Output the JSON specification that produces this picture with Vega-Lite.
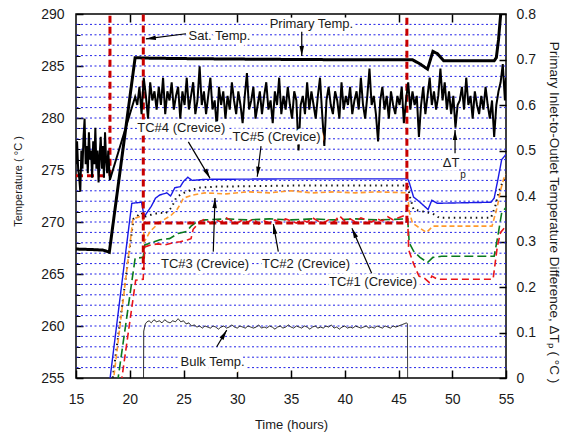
{
 "$schema": "https://vega.github.io/schema/vega-lite/v6.json",
 "width": 430, "height": 364,
 "autosize": {"type": "none"},
 "padding": {"left": 76, "top": 14, "right": 61, "bottom": 58},
 "background": "white",
 "config": {
  "font": "Liberation Sans",
  "view": {"stroke": "black", "strokeWidth": 1.5},
  "axis": {"grid": false, "domain": false, "labelFont": "Liberation Sans", "titleFont": "Liberation Sans", "labelColor": "#1a1a1a", "titleColor": "#1a1a1a", "titleFontWeight": "normal", "tickColor": "black", "labelFlush": false, "labelOverlap": false}
 },
 "datasets": {
  "grid": [{"g":256},{"g":257},{"g":258},{"g":259},{"g":260},{"g":261},{"g":262},{"g":263},{"g":264},{"g":265},{"g":266},{"g":267},{"g":268},{"g":269},{"g":270},{"g":271},{"g":272},{"g":273},{"g":274},{"g":275},{"g":276},{"g":277},{"g":278},{"g":279},{"g":280},{"g":281},{"g":282},{"g":283},{"g":284},{"g":285},{"g":286},{"g":287},{"g":288},{"g":289}],
  "sat": [{"seg":"a","k":1,"t":15,"v":274.45},{"seg":"a","k":2,"t":18.16,"v":274.45},{"seg":"a","k":3,"t":18.16,"v":291},
          {"seg":"b","k":1,"t":21.26,"v":291},{"seg":"b","k":2,"t":21.26,"v":265.4},
          {"seg":"c","k":1,"t":21.26,"v":269.9},{"seg":"c","k":2,"t":45.78,"v":269.9},{"seg":"c","k":3,"t":45.78,"v":291}],
  "temps": [
   {"s":"Primary","t":15,"v":267.4},{"s":"Primary","t":16.5,"v":267.35},{"s":"Primary","t":17.5,"v":267.3},{"s":"Primary","t":18.1,"v":267.1},{"s":"Primary","t":20.5,"v":285.8},{"s":"Primary","t":22,"v":285.75},{"s":"Primary","t":26,"v":285.7},{"s":"Primary","t":32,"v":285.65},{"s":"Primary","t":40,"v":285.6},{"s":"Primary","t":46.3,"v":285.6},{"s":"Primary","t":47.0,"v":285.2},{"s":"Primary","t":47.7,"v":284.7},{"s":"Primary","t":48.2,"v":286.4},{"s":"Primary","t":48.6,"v":286.2},{"s":"Primary","t":49.2,"v":285.5},{"s":"Primary","t":53.9,"v":285.5},{"s":"Primary","t":54.1,"v":285.8},{"s":"Primary","t":54.3,"v":287.5},{"s":"Primary","t":54.55,"v":290.5},
   {"s":"TC#4","t":18.1,"v":254.4},{"s":"TC#4","t":20.19,"v":271.8},{"s":"TC#4","t":21.1,"v":271.9},{"s":"TC#4","t":21.34,"v":270.5},{"s":"TC#4","t":21.6,"v":270.9},{"s":"TC#4","t":22.0,"v":271.5},{"s":"TC#4","t":22.4,"v":272.3},{"s":"TC#4","t":22.8,"v":272.6},{"s":"TC#4","t":23.45,"v":272.8},{"s":"TC#4","t":23.8,"v":272.5},{"s":"TC#4","t":24.2,"v":273.3},{"s":"TC#4","t":24.7,"v":273.4},{"s":"TC#4","t":25.0,"v":273.9},{"s":"TC#4","t":25.4,"v":274.3},{"s":"TC#4","t":25.8,"v":274.0},{"s":"TC#4","t":27,"v":274.1},{"s":"TC#4","t":35,"v":274.15},{"s":"TC#4","t":45.85,"v":274.15},{"s":"TC#4","t":46.0,"v":273.8},{"s":"TC#4","t":46.4,"v":272.4},{"s":"TC#4","t":47.0,"v":271.9},{"s":"TC#4","t":47.75,"v":271.2},{"s":"TC#4","t":48.1,"v":272.1},{"s":"TC#4","t":48.6,"v":271.8},{"s":"TC#4","t":53.6,"v":271.9},{"s":"TC#4","t":53.9,"v":272.3},{"s":"TC#4","t":54.25,"v":274.1},{"s":"TC#4","t":54.6,"v":276.0},{"s":"TC#4","t":55,"v":276.5},
   {"s":"TC#5","t":18.35,"v":254.5},{"s":"TC#5","t":20.35,"v":270.3},{"s":"TC#5","t":21.1,"v":270.9},{"s":"TC#5","t":21.35,"v":270.5},{"s":"TC#5","t":22.0,"v":270.7},{"s":"TC#5","t":22.8,"v":270.9},{"s":"TC#5","t":23.3,"v":270.8},{"s":"TC#5","t":23.9,"v":271.4},{"s":"TC#5","t":24.3,"v":272.3},{"s":"TC#5","t":24.8,"v":272.7},{"s":"TC#5","t":25.5,"v":273.0},{"s":"TC#5","t":26.5,"v":273.3},{"s":"TC#5","t":28,"v":273.4},{"s":"TC#5","t":35,"v":273.5},{"s":"TC#5","t":45.85,"v":273.5},{"s":"TC#5","t":46.1,"v":272.3},{"s":"TC#5","t":46.4,"v":271.2},{"s":"TC#5","t":47.3,"v":271.0},{"s":"TC#5","t":48.2,"v":270.8},{"s":"TC#5","t":48.8,"v":270.4},{"s":"TC#5","t":53.6,"v":270.4},{"s":"TC#5","t":54.0,"v":271.5},{"s":"TC#5","t":54.3,"v":272.8},{"s":"TC#5","t":54.7,"v":273.9},{"s":"TC#5","t":55,"v":274.3},
   {"s":"TC#3","t":18.45,"v":254.5},{"s":"TC#3","t":20.3,"v":270.3},{"s":"TC#3","t":21.2,"v":270.6},{"s":"TC#3","t":21.35,"v":268.1},{"s":"TC#3","t":21.9,"v":269.1},{"s":"TC#3","t":22.8,"v":270.0},{"s":"TC#3","t":23.8,"v":270.6},{"s":"TC#3","t":24.4,"v":271.2},{"s":"TC#3","t":24.7,"v":271.7},{"s":"TC#3","t":25.0,"v":272.3},{"s":"TC#3","t":25.9,"v":272.6},{"s":"TC#3","t":27,"v":272.8},{"s":"TC#3","t":29,"v":272.7},{"s":"TC#3","t":31,"v":272.9},{"s":"TC#3","t":33,"v":272.8},{"s":"TC#3","t":35,"v":273.0},{"s":"TC#3","t":37,"v":272.8},{"s":"TC#3","t":39,"v":272.9},{"s":"TC#3","t":41,"v":272.8},{"s":"TC#3","t":43,"v":272.9},{"s":"TC#3","t":45.85,"v":272.8},{"s":"TC#3","t":46.0,"v":271.0},{"s":"TC#3","t":46.3,"v":269.9},{"s":"TC#3","t":47.0,"v":269.4},{"s":"TC#3","t":47.6,"v":269.0},{"s":"TC#3","t":48.2,"v":269.6},{"s":"TC#3","t":49,"v":269.6},{"s":"TC#3","t":53.7,"v":269.6},{"s":"TC#3","t":54.2,"v":271.5},{"s":"TC#3","t":54.5,"v":273.1},{"s":"TC#3","t":54.8,"v":274.2},{"s":"TC#3","t":55,"v":274.6},
   {"s":"TC#2","t":18.85,"v":254.5},{"s":"TC#2","t":20.5,"v":266.5},{"s":"TC#2","t":21.25,"v":266.6},{"s":"TC#2","t":21.4,"v":267.8},{"s":"TC#2","t":22.0,"v":268.0},{"s":"TC#2","t":22.8,"v":268.3},{"s":"TC#2","t":23.7,"v":268.4},{"s":"TC#2","t":24.5,"v":268.9},{"s":"TC#2","t":25.3,"v":269.1},{"s":"TC#2","t":25.7,"v":269.6},{"s":"TC#2","t":26.2,"v":270.0},{"s":"TC#2","t":27,"v":270.2},{"s":"TC#2","t":29,"v":270.3},{"s":"TC#2","t":31,"v":270.2},{"s":"TC#2","t":33,"v":270.3},{"s":"TC#2","t":35,"v":270.2},{"s":"TC#2","t":37,"v":270.3},{"s":"TC#2","t":39,"v":270.2},{"s":"TC#2","t":41,"v":270.3},{"s":"TC#2","t":43,"v":270.2},{"s":"TC#2","t":45.85,"v":270.3},{"s":"TC#2","t":46.0,"v":268.0},{"s":"TC#2","t":46.4,"v":267.2},{"s":"TC#2","t":47.0,"v":266.6},{"s":"TC#2","t":47.7,"v":266.1},{"s":"TC#2","t":48.2,"v":266.6},{"s":"TC#2","t":49,"v":266.7},{"s":"TC#2","t":53.9,"v":266.7},{"s":"TC#2","t":54.3,"v":269.0},{"s":"TC#2","t":54.6,"v":270.9},{"s":"TC#2","t":55,"v":271.4},
   {"s":"TC#1","t":19.2,"v":254.5},{"s":"TC#1","t":20.55,"v":264.4},{"s":"TC#1","t":21.25,"v":264.5},{"s":"TC#1","t":21.4,"v":267.6},{"s":"TC#1","t":22.0,"v":267.8},{"s":"TC#1","t":22.6,"v":267.9},{"s":"TC#1","t":23.3,"v":267.8},{"s":"TC#1","t":24.0,"v":268.0},{"s":"TC#1","t":24.7,"v":268.1},{"s":"TC#1","t":25.4,"v":268.3},{"s":"TC#1","t":25.7,"v":268.4},{"s":"TC#1","t":25.9,"v":269.3},{"s":"TC#1","t":26.5,"v":270.0},{"s":"TC#1","t":27.0,"v":270.3},{"s":"TC#1","t":27.5,"v":269.9},{"s":"TC#1","t":28.0,"v":270.2},{"s":"TC#1","t":28.5,"v":270.0},{"s":"TC#1","t":29.0,"v":270.4},{"s":"TC#1","t":29.5,"v":270.1},{"s":"TC#1","t":30.0,"v":269.9},{"s":"TC#1","t":30.5,"v":270.2},{"s":"TC#1","t":31.0,"v":270.0},{"s":"TC#1","t":31.5,"v":270.3},{"s":"TC#1","t":32.0,"v":269.8},{"s":"TC#1","t":32.5,"v":270.1},{"s":"TC#1","t":33.0,"v":269.9},{"s":"TC#1","t":33.5,"v":270.2},{"s":"TC#1","t":34.0,"v":270.0},{"s":"TC#1","t":34.5,"v":270.3},{"s":"TC#1","t":35.0,"v":270.1},{"s":"TC#1","t":35.5,"v":269.9},{"s":"TC#1","t":36.0,"v":270.2},{"s":"TC#1","t":36.5,"v":270.0},{"s":"TC#1","t":37.0,"v":270.4},{"s":"TC#1","t":37.5,"v":270.1},{"s":"TC#1","t":38.0,"v":269.9},{"s":"TC#1","t":38.5,"v":270.2},{"s":"TC#1","t":39.0,"v":270.0},{"s":"TC#1","t":39.5,"v":270.6},{"s":"TC#1","t":40.0,"v":270.1},{"s":"TC#1","t":40.5,"v":270.3},{"s":"TC#1","t":41.0,"v":270.0},{"s":"TC#1","t":41.5,"v":270.4},{"s":"TC#1","t":42.0,"v":270.2},{"s":"TC#1","t":42.5,"v":270.0},{"s":"TC#1","t":43.0,"v":270.3},{"s":"TC#1","t":43.5,"v":270.1},{"s":"TC#1","t":44.0,"v":270.5},{"s":"TC#1","t":44.5,"v":270.2},{"s":"TC#1","t":45.0,"v":270.4},{"s":"TC#1","t":45.5,"v":270.6},{"s":"TC#1","t":45.85,"v":270.3},{"s":"TC#1","t":45.95,"v":267.3},{"s":"TC#1","t":46.4,"v":266.0},{"s":"TC#1","t":46.9,"v":264.8},{"s":"TC#1","t":47.4,"v":264.6},{"s":"TC#1","t":47.85,"v":264.2},{"s":"TC#1","t":48.1,"v":264.8},{"s":"TC#1","t":48.6,"v":264.5},{"s":"TC#1","t":53.8,"v":264.5},{"s":"TC#1","t":54.2,"v":267.7},{"s":"TC#1","t":54.5,"v":269.0},{"s":"TC#1","t":55,"v":269.6},
   {"s":"Bulk","t":21.28,"v":254.5},{"s":"Bulk","t":21.3,"v":259.5},{"s":"Bulk","t":21.45,"v":260.2},{"s":"Bulk","t":21.6,"v":260.4},{"s":"Bulk","t":21.8,"v":260.5},{"s":"Bulk","t":22.0,"v":260.3},{"s":"Bulk","t":22.25,"v":260.6},{"s":"Bulk","t":22.5,"v":260.4},{"s":"Bulk","t":22.75,"v":260.5},{"s":"Bulk","t":23.0,"v":260.3},{"s":"Bulk","t":23.25,"v":260.6},{"s":"Bulk","t":23.5,"v":260.4},{"s":"Bulk","t":23.75,"v":260.3},{"s":"Bulk","t":24.0,"v":260.5},{"s":"Bulk","t":24.25,"v":260.4},{"s":"Bulk","t":24.5,"v":260.7},{"s":"Bulk","t":24.75,"v":260.4},{"s":"Bulk","t":25.0,"v":260.5},{"s":"Bulk","t":25.25,"v":260.2},{"s":"Bulk","t":25.5,"v":260.3},{"s":"Bulk","t":25.75,"v":260.0},{"s":"Bulk","t":26.0,"v":260.1},{"s":"Bulk","t":26.25,"v":259.9},{"s":"Bulk","t":26.5,"v":260.0},{"s":"Bulk","t":26.75,"v":259.8},{"s":"Bulk","t":27.0,"v":260.0},{"s":"Bulk","t":27.25,"v":259.9},{"s":"Bulk","t":27.5,"v":259.8},{"s":"Bulk","t":27.75,"v":260.0},{"s":"Bulk","t":28.0,"v":259.9},{"s":"Bulk","t":28.25,"v":259.7},{"s":"Bulk","t":28.5,"v":259.9},{"s":"Bulk","t":28.75,"v":260.0},{"s":"Bulk","t":29.0,"v":259.8},{"s":"Bulk","t":29.25,"v":259.9},{"s":"Bulk","t":29.5,"v":260.1},{"s":"Bulk","t":29.75,"v":259.9},{"s":"Bulk","t":30.0,"v":259.8},{"s":"Bulk","t":30.25,"v":260.0},{"s":"Bulk","t":30.5,"v":259.9},{"s":"Bulk","t":30.75,"v":259.8},{"s":"Bulk","t":31.0,"v":260.0},{"s":"Bulk","t":31.25,"v":259.9},{"s":"Bulk","t":31.5,"v":259.8},{"s":"Bulk","t":31.75,"v":259.9},{"s":"Bulk","t":32.0,"v":260.1},{"s":"Bulk","t":32.25,"v":259.8},{"s":"Bulk","t":32.5,"v":259.9},{"s":"Bulk","t":32.75,"v":259.8},{"s":"Bulk","t":33.0,"v":260.0},{"s":"Bulk","t":33.25,"v":259.9},{"s":"Bulk","t":33.5,"v":259.7},{"s":"Bulk","t":33.75,"v":259.9},{"s":"Bulk","t":34.0,"v":260.0},{"s":"Bulk","t":34.25,"v":259.8},{"s":"Bulk","t":34.5,"v":259.9},{"s":"Bulk","t":34.75,"v":260.1},{"s":"Bulk","t":35.0,"v":259.9},{"s":"Bulk","t":35.25,"v":259.8},{"s":"Bulk","t":35.5,"v":260.0},{"s":"Bulk","t":35.75,"v":259.9},{"s":"Bulk","t":36.0,"v":259.8},{"s":"Bulk","t":36.25,"v":260.0},{"s":"Bulk","t":36.5,"v":259.9},{"s":"Bulk","t":36.75,"v":259.7},{"s":"Bulk","t":37.0,"v":259.9},{"s":"Bulk","t":37.25,"v":260.0},{"s":"Bulk","t":37.5,"v":259.8},{"s":"Bulk","t":37.75,"v":259.9},{"s":"Bulk","t":38.0,"v":259.8},{"s":"Bulk","t":38.25,"v":260.0},{"s":"Bulk","t":38.5,"v":259.9},{"s":"Bulk","t":38.75,"v":260.1},{"s":"Bulk","t":39.0,"v":259.8},{"s":"Bulk","t":39.25,"v":259.9},{"s":"Bulk","t":39.5,"v":259.7},{"s":"Bulk","t":39.75,"v":259.9},{"s":"Bulk","t":40.0,"v":260.0},{"s":"Bulk","t":40.25,"v":259.8},{"s":"Bulk","t":40.5,"v":259.9},{"s":"Bulk","t":40.75,"v":259.8},{"s":"Bulk","t":41.0,"v":260.0},{"s":"Bulk","t":41.25,"v":259.9},{"s":"Bulk","t":41.5,"v":259.8},{"s":"Bulk","t":41.75,"v":259.9},{"s":"Bulk","t":42.0,"v":260.0},{"s":"Bulk","t":42.25,"v":259.8},{"s":"Bulk","t":42.5,"v":259.9},{"s":"Bulk","t":42.75,"v":259.8},{"s":"Bulk","t":43.0,"v":260.0},{"s":"Bulk","t":43.25,"v":259.9},{"s":"Bulk","t":43.5,"v":259.8},{"s":"Bulk","t":43.75,"v":260.0},{"s":"Bulk","t":44.0,"v":259.9},{"s":"Bulk","t":44.25,"v":259.8},{"s":"Bulk","t":44.5,"v":260.0},{"s":"Bulk","t":44.75,"v":259.9},{"s":"Bulk","t":45.0,"v":260.0},{"s":"Bulk","t":45.25,"v":260.1},{"s":"Bulk","t":45.5,"v":260.2},{"s":"Bulk","t":45.75,"v":260.3},{"s":"Bulk","t":45.83,"v":260.2},{"s":"Bulk","t":45.85,"v":254.5}
  ],
  "dtp": [
   {"t":15.0,"d":0.47},{"t":15.1,"d":0.52},{"t":15.2,"d":0.46},{"t":15.3,"d":0.44},{"t":15.4,"d":0.41},{"t":15.5,"d":0.50},{"t":15.6,"d":0.46},{"t":15.7,"d":0.53},{"t":15.8,"d":0.57},{"t":15.9,"d":0.47},{"t":16.0,"d":0.51},{"t":16.1,"d":0.45},{"t":16.2,"d":0.54},{"t":16.3,"d":0.48},{"t":16.4,"d":0.50},{"t":16.5,"d":0.44},{"t":16.6,"d":0.52},{"t":16.7,"d":0.47},{"t":16.8,"d":0.55},{"t":16.9,"d":0.46},{"t":17.0,"d":0.50},{"t":17.1,"d":0.43},{"t":17.2,"d":0.49},{"t":17.3,"d":0.53},{"t":17.4,"d":0.46},{"t":17.5,"d":0.51},{"t":17.6,"d":0.44},{"t":17.7,"d":0.54},{"t":17.8,"d":0.48},{"t":17.9,"d":0.45},{"t":18.0,"d":0.50},{"t":18.15,"d":0.435},{"t":20.5,"d":0.618},
   {"t":20.7,"d":0.60},{"t":20.9,"d":0.64},{"t":21.1,"d":0.58},{"t":21.3,"d":0.66},{"t":21.5,"d":0.62},{"t":21.7,"d":0.57},{"t":21.9,"d":0.65},{"t":22.1,"d":0.61},{"t":22.3,"d":0.63},{"t":22.5,"d":0.59},
   {"t":22.7,"d":0.64},{"t":22.9,"d":0.60},{"t":23.1,"d":0.66},{"t":23.3,"d":0.58},{"t":23.5,"d":0.63},{"t":23.7,"d":0.61},{"t":23.9,"d":0.65},{"t":24.1,"d":0.59},{"t":24.3,"d":0.62},{"t":24.5,"d":0.64},
   {"t":24.7,"d":0.57},{"t":24.9,"d":0.63},{"t":25.1,"d":0.60},{"t":25.3,"d":0.66},{"t":25.5,"d":0.59},{"t":25.7,"d":0.62},{"t":25.9,"d":0.65},{"t":26.1,"d":0.58},{"t":26.3,"d":0.61},{"t":26.5,"d":0.685},
   {"t":26.7,"d":0.60},{"t":26.9,"d":0.63},{"t":27.1,"d":0.58},{"t":27.3,"d":0.62},{"t":27.5,"d":0.66},{"t":27.7,"d":0.59},{"t":27.9,"d":0.61},{"t":28.1,"d":0.55},{"t":28.3,"d":0.64},{"t":28.5,"d":0.60},
   {"t":28.7,"d":0.63},{"t":28.9,"d":0.57},{"t":29.1,"d":0.62},{"t":29.3,"d":0.59},{"t":29.5,"d":0.65},{"t":29.7,"d":0.61},{"t":29.9,"d":0.58},{"t":30.1,"d":0.63},{"t":30.3,"d":0.60},{"t":30.5,"d":0.56},
   {"t":30.7,"d":0.62},{"t":30.9,"d":0.67},{"t":31.1,"d":0.59},{"t":31.3,"d":0.61},{"t":31.5,"d":0.64},{"t":31.7,"d":0.57},{"t":31.9,"d":0.60},{"t":32.1,"d":0.63},{"t":32.3,"d":0.58},{"t":32.5,"d":0.62},
   {"t":32.7,"d":0.65},{"t":32.9,"d":0.59},{"t":33.1,"d":0.61},{"t":33.3,"d":0.56},{"t":33.5,"d":0.63},{"t":33.7,"d":0.60},{"t":33.9,"d":0.66},{"t":34.1,"d":0.58},{"t":34.3,"d":0.62},{"t":34.5,"d":0.59},
   {"t":34.7,"d":0.64},{"t":34.9,"d":0.60},{"t":35.1,"d":0.57},{"t":35.3,"d":0.63},{"t":35.5,"d":0.61},{"t":35.7,"d":0.50},{"t":35.9,"d":0.60},{"t":36.1,"d":0.62},{"t":36.3,"d":0.58},{"t":36.5,"d":0.65},
   {"t":36.7,"d":0.59},{"t":36.9,"d":0.63},{"t":37.1,"d":0.60},{"t":37.3,"d":0.57},{"t":37.5,"d":0.62},{"t":37.7,"d":0.66},{"t":37.9,"d":0.58},{"t":38.1,"d":0.51},{"t":38.3,"d":0.61},{"t":38.5,"d":0.64},
   {"t":38.7,"d":0.60},{"t":38.9,"d":0.58},{"t":39.1,"d":0.63},{"t":39.3,"d":0.61},{"t":39.5,"d":0.57},{"t":39.7,"d":0.65},{"t":39.9,"d":0.59},{"t":40.1,"d":0.62},{"t":40.3,"d":0.60},{"t":40.5,"d":0.64},
   {"t":40.7,"d":0.58},{"t":40.9,"d":0.61},{"t":41.1,"d":0.63},{"t":41.3,"d":0.59},{"t":41.5,"d":0.66},{"t":41.7,"d":0.60},{"t":41.9,"d":0.57},{"t":42.1,"d":0.62},{"t":42.3,"d":0.68},{"t":42.5,"d":0.60},
   {"t":42.7,"d":0.62},{"t":42.9,"d":0.58},{"t":43.1,"d":0.52},{"t":43.3,"d":0.61},{"t":43.5,"d":0.64},{"t":43.7,"d":0.59},{"t":43.9,"d":0.62},{"t":44.1,"d":0.57},{"t":44.3,"d":0.63},{"t":44.5,"d":0.60},
   {"t":44.7,"d":0.58},{"t":44.9,"d":0.62},{"t":45.1,"d":0.60},{"t":45.3,"d":0.64},{"t":45.5,"d":0.56},{"t":45.7,"d":0.61},{"t":45.9,"d":0.65},{"t":46.1,"d":0.59},{"t":46.3,"d":0.63},{"t":46.5,"d":0.60},
   {"t":46.7,"d":0.62},{"t":46.9,"d":0.53},{"t":47.1,"d":0.60},{"t":47.3,"d":0.64},{"t":47.5,"d":0.58},{"t":47.7,"d":0.62},{"t":47.9,"d":0.66},{"t":48.1,"d":0.60},{"t":48.3,"d":0.63},{"t":48.5,"d":0.59},
   {"t":48.7,"d":0.62},{"t":48.9,"d":0.68},{"t":49.1,"d":0.61},{"t":49.3,"d":0.65},{"t":49.5,"d":0.59},{"t":49.7,"d":0.63},{"t":49.9,"d":0.58},{"t":50.1,"d":0.62},{"t":50.3,"d":0.55},{"t":50.5,"d":0.60},
   {"t":50.7,"d":0.61},{"t":50.9,"d":0.64},{"t":51.1,"d":0.59},{"t":51.3,"d":0.66},{"t":51.5,"d":0.60},{"t":51.7,"d":0.62},{"t":51.9,"d":0.57},{"t":52.1,"d":0.63},{"t":52.3,"d":0.60},{"t":52.5,"d":0.58},
   {"t":52.7,"d":0.62},{"t":52.9,"d":0.59},{"t":53.1,"d":0.64},{"t":53.3,"d":0.60},{"t":53.5,"d":0.57},{"t":53.7,"d":0.61},{"t":53.9,"d":0.53},{"t":54.1,"d":0.60},{"t":54.3,"d":0.63},{"t":54.5,"d":0.65},
   {"t":54.7,"d":0.69},{"t":54.9,"d":0.61},{"t":55.0,"d":0.66}
  ],
  "labels": [
   {"label":"Primary Temp.","t":36.9,"v":289.05},
   {"label":"Sat. Temp.","t":28.35,"v":287.9},
   {"label":"TC#4 (Crevice)","t":24.8,"v":279.0},
   {"label":"TC#5 (Crevice)","t":33.65,"v":278.2},
   {"label":"ΔT","t":49.9,"v":275.7},
   {"label":"TC#3 (Crevice)","t":27.0,"v":266.0},
   {"label":"TC#2 (Crevice)","t":36.4,"v":266.0},
   {"label":"TC#1 (Crevice)","t":42.63,"v":264.2},
   {"label":"Bulk Temp.","t":27.7,"v":256.5}
  ],
  "sub": [{"label":"p","t":51.0,"v":274.55}],
  "arrows": [
   {"name":"Primary","t1":36.0,"v1":288.3,"t2":36.0,"v2":285.95,"heading":180},
   {"name":"Sat","t1":25.23,"v1":288.1,"t2":21.5,"v2":287.6,"heading":263},
   {"name":"TC#4","t1":25.45,"v1":277.7,"t2":27.47,"v2":274.2,"heading":151},
   {"name":"TC#5","t1":32.21,"v1":277.3,"t2":31.86,"v2":274.35,"heading":187},
   {"name":"dTp","t1":50.26,"v1":276.6,"t2":50.26,"v2":278.85,"heading":0},
   {"name":"TC#3","t1":27.77,"v1":267.15,"t2":27.93,"v2":272.3,"heading":2},
   {"name":"TC#2","t1":33.82,"v1":267.15,"t2":33.36,"v2":269.8,"heading":350},
   {"name":"TC#1","t1":42.5,"v1":265.07,"t2":40.67,"v2":269.4,"heading":336},
   {"name":"Bulk","t1":28.09,"v1":258.0,"t2":29.02,"v2":259.6,"heading":31}
  ]
 },
 "resolve": {"scale": {"x": "independent", "y": "independent"}},
 "layer": [
  {"data": {"name": "grid"},
   "mark": {"type": "rule", "color": "#2222e8", "strokeWidth": 1, "strokeDash": [2, 2.5]},
   "encoding": {"y": {"field": "g", "type": "quantitative", "scale": {"domain": [255, 290], "nice": false, "zero": false},
     "axis": {"orient": "left", "values": [256,257,258,259,261,262,263,264,266,267,268,269,271,272,273,274,276,277,278,279,281,282,283,284,286,287,288,289], "labels": false, "tickSize": -4, "tickWidth": 1, "title": null}}}},
  {"data": {"name": "temps"},
   "mark": {"type": "line", "clip": true},
   "encoding": {
    "x": {"field": "t", "type": "quantitative", "scale": {"domain": [15, 55], "nice": false, "zero": false},
      "axis": {"orient": "bottom", "values": [15,20,25,30,35,40,45,50,55], "tickSize": -8, "tickWidth": 1.5, "labelFontSize": 14, "labelPadding": 22, "title": "Time (hours)", "titleFontSize": 13, "titleY": 46, "titleBaseline": "middle"}},
    "y": {"field": "v", "type": "quantitative", "scale": {"domain": [255, 290], "nice": false, "zero": false},
      "axis": {"orient": "left", "values": [255,260,265,270,275,280,285,290], "tickSize": -7, "tickWidth": 1.5, "labelFontSize": 14, "labelPadding": 19, "title": "Temperature ( °C )", "titleFontSize": 11, "titleX": -58, "titleY": 167, "titleAngle": -90, "titleAlign": "center", "titleBaseline": "middle"}},
    "color": {"field": "s", "type": "nominal", "legend": null, "scale": {"domain": ["Bulk","TC#1","TC#2","TC#3","TC#5","TC#4","Primary"], "range": ["#111111","#e8141a","#0a7a1e","#ff9a2e","#111111","#1a1ae6","#000000"]}},
    "strokeDash": {"field": "s", "type": "nominal", "legend": null, "scale": {"domain": ["Bulk","TC#1","TC#2","TC#3","TC#5","TC#4","Primary"], "range": [[1,0],[7,4],[9,4],[5,3],[1.5,4],[1,0],[1,0]]}},
    "strokeWidth": {"field": "s", "type": "nominal", "legend": null, "scale": {"type": "ordinal", "domain": ["Bulk","TC#1","TC#2","TC#3","TC#5","TC#4","Primary"], "range": [1,1.6,1.6,1.6,2,1.4,3]}}
   }},
  {"data": {"name": "sat"},
   "mark": {"type": "line", "color": "#c80000", "strokeWidth": 3, "strokeDash": [7, 4], "clip": true},
   "encoding": {
    "x": {"field": "t", "type": "quantitative", "scale": {"domain": [15, 55], "nice": false, "zero": false},
      "axis": {"orient": "top", "values": [20,25,30,35,40,45,50], "labels": false, "tickSize": -8, "tickWidth": 1.5, "title": null}},
    "y": {"field": "v", "type": "quantitative", "scale": {"domain": [255, 290], "nice": false, "zero": false}, "axis": null},
    "detail": {"field": "seg"},
    "order": {"field": "k"}
   }},
  {"data": {"name": "dtp"},
   "mark": {"type": "line", "color": "black", "strokeWidth": 2, "clip": true},
   "encoding": {
    "x": {"field": "t", "type": "quantitative", "scale": {"domain": [15, 55], "nice": false, "zero": false}, "axis": null},
    "y": {"field": "d", "type": "quantitative", "scale": {"domain": [0, 0.8], "nice": false, "zero": false},
      "axis": {"orient": "right", "values": [0,0.1,0.2,0.3,0.4,0.5,0.6,0.7,0.8], "format": ".1~f", "tickSize": -7, "tickWidth": 1.5, "labelFontSize": 14, "labelPadding": 17, "title": "Primary Inlet-to-Outlet Temperature Difference, ΔTₚ ( °C )", "titleFontSize": 13.5, "titleX": 47, "titleY": 198, "titleAngle": 90, "titleAlign": "center", "titleBaseline": "middle"}}
   }},
  {"data": {"name": "labels"},
   "mark": {"type": "text", "fontSize": 13, "font": "Liberation Sans", "align": "center", "baseline": "middle", "fill": "white", "stroke": "white", "strokeWidth": 7, "strokeJoin": "round"},
   "encoding": {
    "x": {"field": "t", "type": "quantitative", "scale": {"domain": [15, 55], "nice": false, "zero": false}, "axis": null},
    "y": {"field": "v", "type": "quantitative", "scale": {"domain": [255, 290], "nice": false, "zero": false}, "axis": null},
    "text": {"field": "label"}
   }},
  {"data": {"name": "arrows"},
   "mark": {"type": "rule", "color": "black", "strokeWidth": 1.2},
   "encoding": {
    "x": {"field": "t1", "type": "quantitative", "scale": {"domain": [15, 55], "nice": false, "zero": false}, "axis": null},
    "x2": {"field": "t2"},
    "y": {"field": "v1", "type": "quantitative", "scale": {"domain": [255, 290], "nice": false, "zero": false}, "axis": null},
    "y2": {"field": "v2"}
   }},
  {"data": {"name": "arrows"},
   "mark": {"type": "point", "shape": "M0,0L0.45,2L-0.45,2Z", "filled": true, "color": "black", "opacity": 1, "size": 100, "strokeWidth": 0},
   "encoding": {
    "x": {"field": "t2", "type": "quantitative", "scale": {"domain": [15, 55], "nice": false, "zero": false}, "axis": null},
    "y": {"field": "v2", "type": "quantitative", "scale": {"domain": [255, 290], "nice": false, "zero": false}, "axis": null},
    "angle": {"field": "heading", "type": "quantitative", "scale": null}
   }},
  {"data": {"name": "labels"},
   "mark": {"type": "text", "fontSize": 13, "font": "Liberation Sans", "align": "center", "baseline": "middle", "color": "#1a1a1a"},
   "encoding": {
    "x": {"field": "t", "type": "quantitative", "scale": {"domain": [15, 55], "nice": false, "zero": false}, "axis": null},
    "y": {"field": "v", "type": "quantitative", "scale": {"domain": [255, 290], "nice": false, "zero": false}, "axis": null},
    "text": {"field": "label"}
   }},
  {"data": {"name": "sub"},
   "mark": {"type": "text", "fontSize": 10, "font": "Liberation Sans", "align": "center", "baseline": "middle", "color": "#1a1a1a"},
   "encoding": {
    "x": {"field": "t", "type": "quantitative", "scale": {"domain": [15, 55], "nice": false, "zero": false}, "axis": null},
    "y": {"field": "v", "type": "quantitative", "scale": {"domain": [255, 290], "nice": false, "zero": false}, "axis": null},
    "text": {"field": "label"}
   }}
 ]
}
